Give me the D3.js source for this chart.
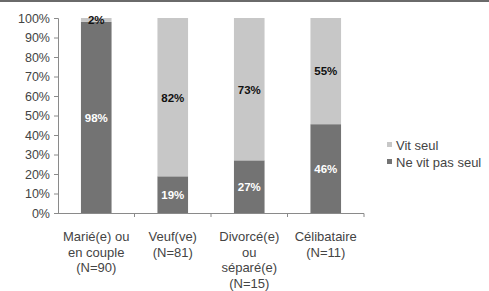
<!DOCTYPE html>
<html>
<head>
<meta charset="utf-8">
<script src="https://cdn.jsdelivr.net/npm/d3@7"></script>
<style>
  body { margin: 0; background: #fff; }
  text { font-family: "Liberation Sans", Arial, sans-serif; }
</style>
</head>
<body>
<div id="chart"></div>
<script>
const categories = [
  ["Marié(e) ou", "en couple", "(N=90)"],
  ["Veuf(ve)", "(N=81)"],
  ["Divorcé(e)", "ou", "séparé(e)", "(N=15)"],
  ["Célibataire", "(N=11)"]
];
const neVitPasSeul = [98, 19, 27, 46];
const vitSeul = [2, 82, 73, 55];
const yTicks = [0, 10, 20, 30, 40, 50, 60, 70, 80, 90, 100];
const seriesNames = ["Ne vit pas seul", "Vit seul"];
const colors = ["#737373", "#c7c7c7"];

const W = 489, H = 291;
const svg = d3.select("#chart").append("svg")
  .attr("width", W)
  .attr("height", H);

// top border
svg.append("rect").attr("x", 0).attr("y", 0).attr("width", W).attr("height", 2).attr("fill", "#6a6a6a");

const rows = categories.map((c, i) => ({ i, a: neVitPasSeul[i], b: vitSeul[i] }));
const stack = d3.stack().keys(["a", "b"]).offset(d3.stackOffsetExpand);
const series = stack(rows);

const x = d3.scaleBand()
  .domain(d3.range(categories.length))
  .range([58, 364])
  .paddingInner(0.6)
  .paddingOuter(0.3);

const y = d3.scaleLinear()
  .domain([0, 1])
  .range([213, 18]);

// bars
series.forEach((s, k) => {
  svg.append("g").selectAll("rect")
    .data(s)
    .enter()
    .append("rect")
    .attr("x", (d, i) => x(i))
    .attr("y", d => y(d[1]))
    .attr("height", d => y(d[0]) - y(d[1]))
    .attr("width", x.bandwidth())
    .attr("fill", colors[k]);
});

// value labels
const labelVals = [neVitPasSeul, vitSeul];
series.forEach((s, k) => {
  svg.append("g").selectAll("text")
    .data(s)
    .enter()
    .append("text")
    .attr("x", (d, i) => x(i) + x.bandwidth() / 2)
    .attr("y", d => (y(d[0]) + y(d[1])) / 2)
    .attr("dy", "0.38em")
    .attr("text-anchor", "middle")
    .attr("font-size", 11.5)
    .attr("font-weight", "bold")
    .attr("fill", k === 0 ? "#fff" : "#111")
    .text((d, i) => labelVals[k][i] + "%");
});

// y axis
const yAxis = svg.append("g")
  .attr("transform", "translate(58,0)")
  .call(d3.axisLeft(y).tickValues(yTicks.map(v => v / 100)).tickFormat(v => Math.round(v * 100) + "%").tickSize(4).tickPadding(4));
yAxis.selectAll("path, line").attr("stroke", "#8a8a8a");
yAxis.selectAll("text").attr("font-size", 12.5).attr("fill", "#444").attr("font-family", "Liberation Sans, Arial, sans-serif");

// x axis
const step = x.step();
const xEdges = d3.range(categories.length + 1).map(i => 58 + i * step);
const xg = svg.append("g");
xg.append("line").attr("x1", 58).attr("x2", 364).attr("y1", 213.5).attr("y2", 213.5).attr("stroke", "#8a8a8a");
xg.selectAll("line.tick")
  .data(xEdges.slice(1))
  .enter()
  .append("line")
  .attr("class", "tick")
  .attr("x1", d => d).attr("x2", d => d)
  .attr("y1", 213.5).attr("y2", 217)
  .attr("stroke", "#8a8a8a");

// category labels
categories.forEach((lines, i) => {
  const t = svg.append("text")
    .attr("x", x(i) + x.bandwidth() / 2)
    .attr("y", 241)
    .attr("text-anchor", "middle")
    .attr("font-size", 13)
    .attr("fill", "#444");
  lines.forEach((l, j) => {
    t.append("tspan")
      .attr("x", x(i) + x.bandwidth() / 2)
      .attr("dy", j === 0 ? 0 : 15.5)
      .text(l);
  });
});

// legend (Vit seul on top)
const legend = svg.append("g").attr("transform", "translate(387,145)");
[1, 0].forEach((k, j) => {
  const g = legend.append("g").attr("transform", `translate(0,${j * 17})`);
  g.append("rect").attr("x", 0).attr("y", -3).attr("width", 5).attr("height", 5).attr("fill", colors[k]);
  g.append("text").attr("x", 9).attr("y", 0).attr("dy", "0.35em")
    .attr("font-size", 13).attr("fill", "#444").text(seriesNames[k]);
});
</script>
</body>
</html>
